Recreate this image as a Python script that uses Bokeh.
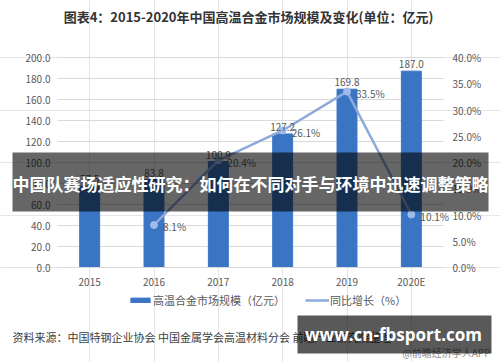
from bokeh.plotting import figure
from bokeh.models import (ColumnDataSource, LinearAxis, CategoricalAxis, Range1d, FactorRange,
                          FixedTicker, PrintfTickFormatter, LabelSet, Label, BoxAnnotation,
                          Legend, LegendItem, Grid)
from bokeh.core.properties import value
from bokeh.embed import file_html
from bokeh.resources import INLINE

years = ["2015", "2016", "2017", "2018", "2019", "2020E"]
market = [77.5, 83.8, 100.9, 127.2, 169.8, 187.0]
growth_years = ["2016", "2017", "2018", "2019", "2020E"]
growth = [8.1, 20.4, 26.1, 33.5, 10.1]
left_ticks = [0, 20, 40, 60, 80, 100, 120, 140, 160, 180, 200]
right_ticks = [0, 5, 10, 15, 20, 25, 30, 35, 40]

title_text = "图表4：2015-2020年中国高温合金市场规模及变化(单位：亿元)"
bar_name = "高温合金市场规模（亿元）"
line_name = "同比增长（%）"
source_text = "资料来源：中国特钢企业协会 中国金属学会高温材料分会 前瞻产业研究院整理"
credit_text = "@前瞻经济学人APP"
banner_text = "中国队赛场适应性研究：如何在不同对手与环境中迅速调整策略"
url_text = "www.cn-fbsport.com"

CJK = "Noto Sans CJK SC"
BAR = "#3a75c4"
LINE = "#8eaadb"
GRAY = "#595959"

W, H = 500, 362
# plot area inside the canvas (pixels): left/right/top/bottom of the value region
PL, PR, PT, PB = 57, 443, 57, 267
n = len(years)
ux = (PR - PL) / n
ymax, pmax = 200.0, 40.0
uy = (PB - PT) / ymax

x_range = FactorRange(factors=years, range_padding=PL / ux, range_padding_units="absolute")
y_range = Range1d((PB - H) / uy, PB / uy)

p = figure(x_range=x_range, y_range=y_range, width=W, height=H,
           output_backend="svg", toolbar_location=None,
           x_axis_location=None, y_axis_location=None, min_border=0)
p.outline_line_color = None
p.background_fill_color = "white"
p.border_fill_color = "white"
p.extra_y_ranges = {"pct": Range1d(y_range.start * pmax / ymax, y_range.end * pmax / ymax)}

bar_src = ColumnDataSource(dict(x=years, y=market, t=[f"{v:.1f}" for v in market]))
line_src = ColumnDataSource(dict(x=growth_years, y=growth, t=[f"{v:.1f}%" for v in growth]))

# grid
p.add_layout(Grid(dimension=1, ticker=FixedTicker(ticks=left_ticks), cross_bounds=(0, n),
                  grid_line_color="#d9d9d9", grid_line_width=1))

bars = p.vbar(x="x", top="y", width=0.31, source=bar_src, color=BAR)
ln = p.line(x="x", y="y", source=line_src, y_range_name="pct", line_color=LINE, line_width=2.5)
mk = p.scatter(x="x", y="y", source=line_src, y_range_name="pct", size=7,
               fill_color="#9fbbea", line_color="#9fbbea")


def style_axis(ax, standoff):
    ax.major_tick_out = 0
    ax.major_tick_in = 0
    ax.minor_tick_out = 0
    ax.minor_tick_in = 0
    ax.major_label_standoff = standoff
    ax.major_label_text_font = CJK
    ax.major_label_text_font_size = "10px"
    ax.major_label_text_color = GRAY


la = LinearAxis(fixed_location=0, bounds=(0, ymax), ticker=FixedTicker(ticks=left_ticks),
                formatter=PrintfTickFormatter(format="%.1f"))
style_axis(la, 7)
la.axis_line_color = None
p.add_layout(la, "left")

ra = LinearAxis(y_range_name="pct", fixed_location=n, bounds=(0, pmax),
                ticker=FixedTicker(ticks=right_ticks),
                formatter=PrintfTickFormatter(format="%.1f%%"))
style_axis(ra, 9)
ra.axis_line_color = None
p.add_layout(ra, "right")

xa = CategoricalAxis(fixed_location=0, bounds=(0, n))
style_axis(xa, 6)
xa.axis_line_color = "#d9d9d9"
p.add_layout(xa, "below")

# value labels
p.add_layout(LabelSet(x="x", y="y", text="t", source=bar_src, text_align="center",
                      text_baseline="bottom", y_offset=3, text_font=value(CJK),
                      text_font_size="10px", text_color=GRAY))
p.add_layout(LabelSet(x="x", y="y", text="t", source=line_src, y_range_name="pct",
                      text_align="left", text_baseline="middle", x_offset=9, y_offset=-2,
                      text_font=value(CJK), text_font_size="10px", text_color=GRAY))

# legend
legend = Legend(items=[LegendItem(label=bar_name, renderers=[bars]),
                       LegendItem(label=line_name, renderers=[ln, mk])],
                orientation="horizontal", location=(128, H - 308), padding=0, margin=0,
                spacing=20, glyph_width=24, glyph_height=6, label_standoff=1,
                label_text_font=CJK, label_text_font_size="11px",
                label_text_color=GRAY, border_line_color=None,
                background_fill_alpha=0)
p.add_layout(legend, "center")

# title and footer texts (screen units from the canvas bottom-left)
p.add_layout(Label(x=248, y=H - 16, x_units="screen", y_units="screen", text=title_text,
                   text_align="center", text_baseline="middle", text_font=CJK,
                   text_font_size="13px", text_font_style="bold", text_color="#333333"))
p.add_layout(Label(x=12, y=H - 336, x_units="screen", y_units="screen", text=source_text,
                   text_align="left", text_baseline="middle", text_font=CJK,
                   text_font_size="11px", text_color="#404040"))
p.add_layout(Label(x=490, y=H - 352, x_units="screen", y_units="screen", text=credit_text,
                   text_align="right", text_baseline="middle", text_font=CJK,
                   text_font_size="10px", text_color="#8c8c8c"))

# overlays
p.add_layout(BoxAnnotation(left=12, right=488, bottom=H - 211, top=H - 152,
                           left_units="screen", right_units="screen",
                           bottom_units="screen", top_units="screen",
                           fill_color="black", fill_alpha=0.6, line_color=None,
                           level="overlay"))
p.add_layout(Label(x=250, y=H - 183, x_units="screen", y_units="screen", text=banner_text,
                   text_align="center", text_baseline="middle", text_font=CJK,
                   text_font_size="17px", text_font_style="bold", text_color="white",
                   level="overlay"))
p.add_layout(BoxAnnotation(left=297, right=491, bottom=H - 353, top=H - 315,
                           left_units="screen", right_units="screen",
                           bottom_units="screen", top_units="screen",
                           fill_color="black", fill_alpha=0.65, line_color=None,
                           level="overlay"))
p.add_layout(Label(x=393, y=H - 334, x_units="screen", y_units="screen", text=url_text,
                   text_align="center", text_baseline="middle", text_font="Open Sans",
                   text_font_size="17px", text_font_style="bold", text_color="white",
                   level="overlay"))

open("out.html", "w").write(file_html(p, INLINE))
